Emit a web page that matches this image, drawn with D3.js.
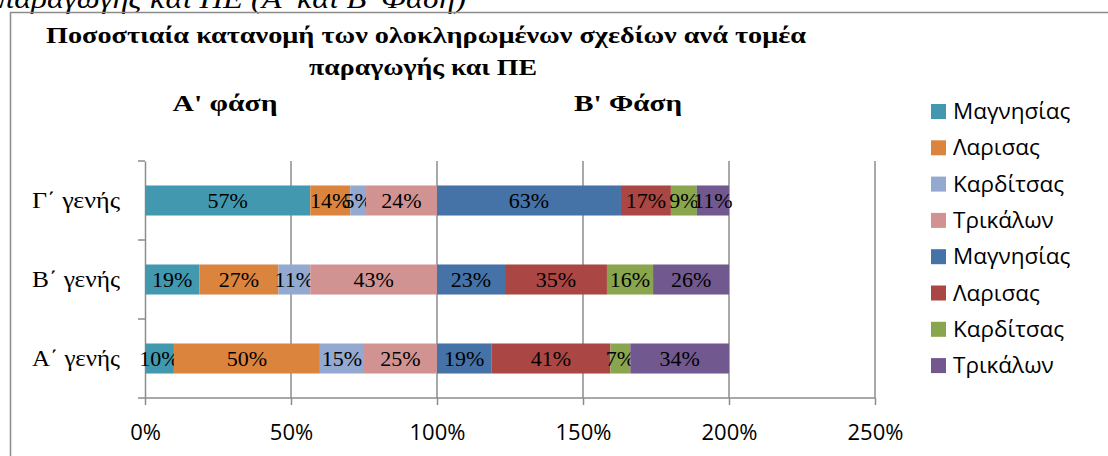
<!DOCTYPE html>
<html>
<head>
<meta charset="utf-8">
<script src="https://cdn.jsdelivr.net/npm/d3@7"></script>
<style>
	body { margin: 0; background: #fff; }
	svg { display: block; }
</style>
</head>
<body>
<svg id="chart" width="1108" height="456"></svg>
<script>
var SVG_WIDTH = 1108;
var SVG_HEIGHT = 456;

var categories = ['Γ΄ γενής', 'Β΄ γενής', 'Α΄ γενής'];
var series_names = ['Μαγνησίας', 'Λαρισας', 'Καρδίτσας', 'Τρικάλων', 'Μαγνησίας', 'Λαρισας', 'Καρδίτσας', 'Τρικάλων'];
var series_colors = ['#4198af', '#db843d', '#93a9cf', '#d19392', '#4572a7', '#aa4643', '#89a54e', '#71588f'];

// first four = Α' φάση, last four = Β' φάση
var values_gamma = [0.566, 0.137, 0.054, 0.243, 0.630, 0.171, 0.089, 0.110];
var values_beta = [0.186, 0.271, 0.109, 0.434, 0.233, 0.349, 0.158, 0.260];
var values_alpha = [0.099, 0.500, 0.151, 0.250, 0.186, 0.408, 0.068, 0.338];

var x_ticks = [0, 0.5, 1, 1.5, 2, 2.5];

var svg = d3.select('#chart');

// serif text stretched to the width it has in the original
function serif_text(g, x, y, w, size, bold, str)
{
	return g.append('text')
		.attr('x', x)
		.attr('y', y)
		.attr('text-anchor', 'middle')
		.attr('textLength', w)
		.attr('lengthAdjust', 'spacingAndGlyphs')
		.style('font-family', 'Liberation Serif')
		.style('font-weight', bold ? 'bold' : 'normal')
		.style('font-size', size + 'px')
		.attr('fill', '#000')
		.text(str);
}

function draw_frame()
{
	serif_text(svg, 232, 8, 468, 27, false, 'παραγωγής και ΠΕ (Α\' και Β\' Φάση)')
		.style('font-style', 'italic');

	svg.append('rect')
		.attr('x', 10.5)
		.attr('y', 12.5)
		.attr('width', 1200)
		.attr('height', 600)
		.attr('fill', 'none')
		.attr('stroke', '#8c8c8c')
		.attr('stroke-width', 1.5);

	serif_text(svg, 426, 43, 760, 24, true, 'Ποσοστιαία κατανομή των ολοκληρωμένων σχεδίων ανά τομέα');
	serif_text(svg, 423, 75, 228, 24, true, 'παραγωγής και ΠΕ');
	serif_text(svg, 225, 111, 105, 24, true, 'Α\' φάση');
	serif_text(svg, 628, 111, 108, 24, true, 'Β\' Φάση');
}

function setup_axis()
{
	var x = d3.scaleLinear()
			.domain([0, 2.5])
			.range([145, 875]);

	var y = d3.scaleBand()
			.domain(categories)
			.range([161, 398]);

	// vertical gridlines
	svg.append('g')
		.attr('id', 'grid')
		.selectAll('line')
		.data(x_ticks.slice(1))
		.enter().append('line')
		.attr('x1', function(d) { return x(d); })
		.attr('x2', function(d) { return x(d); })
		.attr('y1', 161)
		.attr('y2', 398)
		.attr('stroke', '#8c8c8c')
		.attr('stroke-width', 1.5);

	var x_axis = svg.append('g')
		.attr('id', 'x-axis')
		.attr('transform', 'translate(0,398)')
		.call(d3.axisBottom(x).tickValues(x_ticks).tickFormat(d3.format('.0%')).tickSizeInner(7).tickSizeOuter(0).tickPadding(19));
	x_axis.select('.domain').attr('stroke', '#8c8c8c').attr('stroke-width', 1.5).attr('d', 'M138,0H875');
	x_axis.selectAll('.tick line').attr('stroke', '#8c8c8c').attr('stroke-width', 1.5);
	x_axis.selectAll('.tick text')
		.style('font-family', 'Open Sans')
		.style('font-size', '22px')
		.attr('fill', '#000');

	var y_axis = svg.append('g')
		.attr('id', 'y-axis')
		.attr('transform', 'translate(145,0)')
		.call(d3.axisLeft(y).tickSize(0).tickPadding(25));
	y_axis.select('.domain').attr('stroke', '#8c8c8c').attr('stroke-width', 1.5);
	y_axis.selectAll('.tick text')
		.attr('textLength', 88)
		.attr('lengthAdjust', 'spacingAndGlyphs')
		.style('font-family', 'Liberation Serif')
		.style('font-size', '24px')
		.attr('fill', '#000');

	// category separators on the y axis
	y_axis.selectAll('.sep')
		.data(categories)
		.enter().append('line')
		.attr('x1', -7)
		.attr('x2', 0)
		.attr('y1', function(d) { return y(d); })
		.attr('y2', function(d) { return y(d); })
		.attr('stroke', '#8c8c8c')
		.attr('stroke-width', 1.5);

	return [x, y];
}

function draw_bars(x, y)
{
	var rows = [values_gamma, values_beta, values_alpha].map(function(v, i) {
		var r = { cat: categories[i] };
		v.forEach(function(d, j) { r['s' + j] = d; });
		return r;
	});
	var keys = series_names.map(function(d, j) { return 's' + j; });
	var stacked = d3.stack().keys(keys)(rows);

	var bar_h = y.bandwidth() * 0.38;
	var off = (y.bandwidth() - bar_h) / 2;
	var fmt = d3.format('.0%');

	var layer = svg.append('g')
		.attr('id', 'bars')
		.selectAll('g')
		.data(stacked)
		.enter().append('g')
		.attr('fill', function(d, i) { return series_colors[i]; });

	layer.selectAll('rect')
		.data(function(d) { return d; })
		.enter().append('rect')
		.attr('x', function(d) { return x(d[0]); })
		.attr('y', function(d) { return y(d.data.cat) + off; })
		.attr('width', function(d) { return x(d[1]) - x(d[0]); })
		.attr('height', bar_h);

	layer.selectAll('text')
		.data(function(d) { return d; })
		.enter().append('text')
		.attr('x', function(d) { return (x(d[0]) + x(d[1])) / 2; })
		.attr('y', function(d) { return y(d.data.cat) + y.bandwidth() / 2 + 7; })
		.attr('text-anchor', 'middle')
		.attr('fill', '#000')
		.style('font-family', 'Liberation Serif')
		.style('font-size', '22px')
		.text(function(d) { return fmt(d[1] - d[0]); });
}

function draw_legend()
{
	var lg = svg.append('g')
		.attr('id', 'legend')
		.selectAll('g')
		.data(series_names)
		.enter().append('g')
		.attr('transform', function(d, i) { return 'translate(931,' + (111 + i * 36.3) + ')'; });

	lg.append('rect')
		.attr('x', 0)
		.attr('y', -7)
		.attr('width', 15)
		.attr('height', 15)
		.attr('fill', function(d, i) { return series_colors[i]; });

	lg.append('text')
		.attr('x', 22)
		.attr('y', 8)
		.style('font-family', 'Open Sans')
		.style('font-size', '22.5px')
		.attr('fill', '#000')
		.text(function(d) { return d; });
}

draw_frame();
var axes = setup_axis();
draw_bars(axes[0], axes[1]);
draw_legend();
</script>
</body>
</html>
